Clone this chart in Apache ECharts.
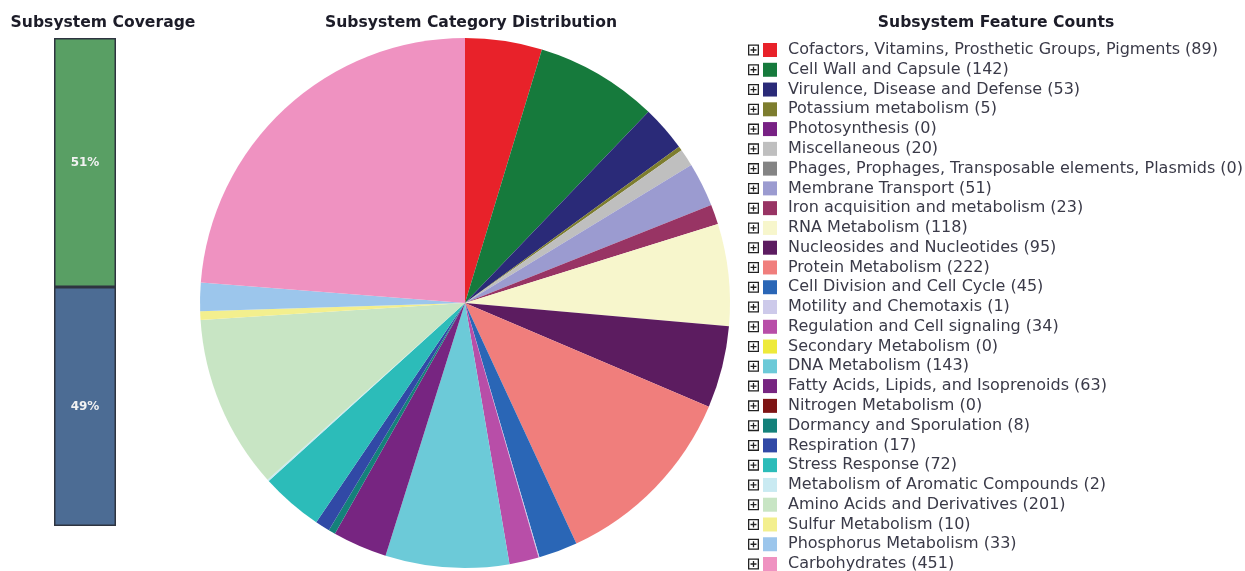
<!DOCTYPE html>
<html>
<head>
<meta charset="utf-8">
<script src="https://cdn.jsdelivr.net/npm/echarts@6/dist/echarts.min.js"></script>
<style>
html,body{margin:0;padding:0;background:#fff;}
#main{width:1245px;height:571px;}
</style>
</head>
<body>
<div id="main"></div>
<script>
// ---- data ----
var categories = [
  'Cofactors, Vitamins, Prosthetic Groups, Pigments',
  'Cell Wall and Capsule',
  'Virulence, Disease and Defense',
  'Potassium metabolism',
  'Photosynthesis',
  'Miscellaneous',
  'Phages, Prophages, Transposable elements, Plasmids',
  'Membrane Transport',
  'Iron acquisition and metabolism',
  'RNA Metabolism',
  'Nucleosides and Nucleotides',
  'Protein Metabolism',
  'Cell Division and Cell Cycle',
  'Motility and Chemotaxis',
  'Regulation and Cell signaling',
  'Secondary Metabolism',
  'DNA Metabolism',
  'Fatty Acids, Lipids, and Isoprenoids',
  'Nitrogen Metabolism',
  'Dormancy and Sporulation',
  'Respiration',
  'Stress Response',
  'Metabolism of Aromatic Compounds',
  'Amino Acids and Derivatives',
  'Sulfur Metabolism',
  'Phosphorus Metabolism',
  'Carbohydrates'
];
var counts = [89, 142, 53, 5, 0, 20, 0, 51, 23, 118, 95, 222, 45, 1, 34, 0, 143, 63, 0, 8, 17, 72, 2, 201, 10, 33, 451];
var sliceColors = [
  '#e8222a', '#167a3c', '#2a2a78', '#7d7d2e', '#782184', '#bfbfbf', '#848484',
  '#9b9bd0', '#983464', '#f7f6cc', '#5c1c60', '#f07e7c', '#2a66b6', '#cdcaea',
  '#b84ea8', '#eeea3a', '#6ccad8', '#772581', '#7e1414', '#14817a', '#3149a6',
  '#2cbcb9', '#c9eaf2', '#c8e5c4', '#f3ef8e', '#9cc6ec', '#ef92c1'
];
var coverageLabels = ['Subsystem Coverage'];
var coverageIn = [51];
var coverageOut = [49];

// ---- chart ----
var chart = echarts.init(document.getElementById('main'), null, {renderer: 'canvas'});
var countByName = {};
categories.forEach(function (c, i) { countByName[c] = counts[i]; });

var pieData = categories.map(function (c, i) {
  return { name: c, value: counts[i], itemStyle: { color: sliceColors[i] } };
});

var plusIcon = 'path://M0,0H11V11H0Z M1.3,9.7H9.7V1.3H1.3Z M2.5,4.85H8.5V6.15H2.5Z M4.85,2.5H6.15V8.5H4.85Z';

var titleStyle = { fontFamily: 'DejaVu Sans', fontWeight: 'bold', fontSize: 15.6, color: '#1c1c28' };

var option = {
  backgroundColor: '#ffffff',
  animation: false,
  title: [
    { text: 'Subsystem Coverage', left: 103, top: 15, padding: 0, textAlign: 'center', textStyle: titleStyle },
    { text: 'Subsystem Category Distribution', left: 471, top: 15, padding: 0, textAlign: 'center', textStyle: titleStyle },
    { text: 'Subsystem Feature Counts', left: 996, top: 15, padding: 0, textAlign: 'center', textStyle: titleStyle }
  ],
  grid: { left: 54, top: 38, width: 62, height: 488 },
  xAxis: { type: 'category', data: coverageLabels, show: false },
  yAxis: { type: 'value', min: 0, max: 100, show: false },
  legend: [
    {
      orient: 'vertical',
      left: 763,
      top: 42,
      height: 800,
      padding: 0,
      itemWidth: 14,
      itemHeight: 14,
      itemGap: 3.77,
      icon: 'rect',
      selectedMode: false,
      data: categories,
      formatter: function (name) { return name + ' (' + countByName[name] + ')'; },
      textStyle: { fontFamily: 'DejaVu Sans', fontSize: 16, color: '#3a3a48', lineHeight: 16, padding: [0, 0, 0, 6] }
    },
    {
      orient: 'vertical',
      left: 748,
      top: 42,
      height: 800,
      padding: 0,
      itemWidth: 11,
      itemHeight: 11,
      itemGap: 3.77,
      icon: plusIcon,
      selectedMode: false,
      data: categories,
      itemStyle: { color: '#222222', borderWidth: 0 },
      formatter: function () { return ' '; },
      textStyle: { fontFamily: 'DejaVu Sans', fontSize: 16, lineHeight: 16 }
    }
  ],
  series: [
    {
      type: 'bar',
      stack: 'cov',
      name: 'Not in subsystem',
      barWidth: '100%',
      data: coverageOut,
      itemStyle: { color: '#4c6c94', borderColor: '#2e3440', borderWidth: 1.5 },
      label: { show: true, position: 'inside', formatter: '{c}%', color: '#f2f2f2', fontFamily: 'DejaVu Sans', fontWeight: 'bold', fontSize: 12 },
      emphasis: { disabled: true },
      legendHoverLink: false
    },
    {
      type: 'bar',
      stack: 'cov',
      name: 'In subsystem',
      barWidth: '100%',
      data: coverageIn,
      itemStyle: { color: '#599f64', borderColor: '#2e3440', borderWidth: 1.5 },
      label: { show: true, position: 'inside', formatter: '{c}%', color: '#f2f2f2', fontFamily: 'DejaVu Sans', fontWeight: 'bold', fontSize: 12 },
      emphasis: { disabled: true },
      legendHoverLink: false
    },
    {
      type: 'pie',
      name: 'Subsystem Category Distribution',
      center: [465, 303],
      radius: [0, 265],
      startAngle: 90,
      clockwise: true,
      avoidLabelOverlap: false,
      label: { show: false },
      labelLine: { show: false },
      itemStyle: { borderWidth: 0 },
      emphasis: { disabled: true },
      data: pieData
    }
  ]
};
chart.setOption(option);
</script>
</body>
</html>
